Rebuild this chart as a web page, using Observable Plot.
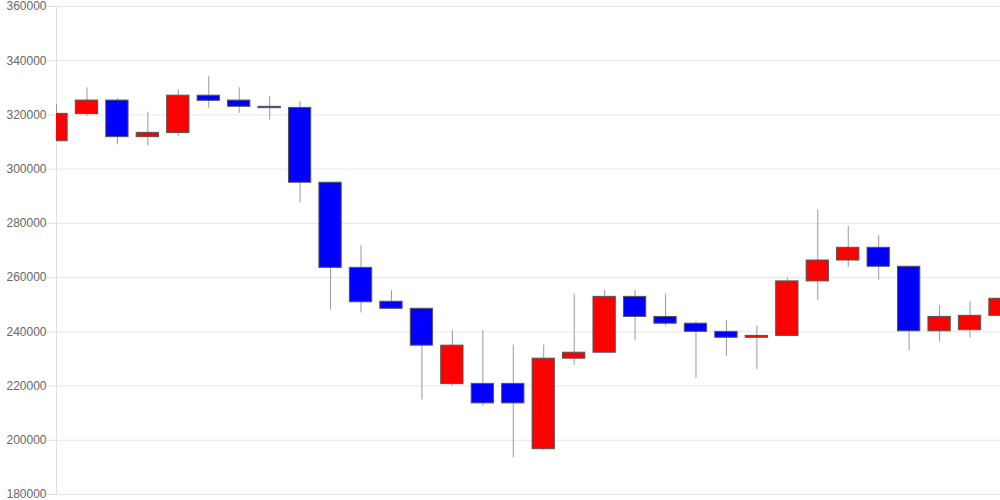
<!DOCTYPE html>
<html>
<head>
<meta charset="utf-8">
<script src="https://cdn.jsdelivr.net/npm/d3@7"></script>
<script src="https://cdn.jsdelivr.net/npm/@observablehq/plot@0.6"></script>
<style>
  html, body { margin: 0; padding: 0; background: #fff; }
</style>
</head>
<body>
<div id="chart"></div>
<script>
const opens  = [310300, 320300, 325300, 311800, 313300, 327100, 325300, 323000, 322600, 295000,
                263600, 251100, 248500, 220700, 220800, 220800, 196700, 230100, 232300, 252900,
                245500, 243000, 240000, 237800, 238500, 258600, 266300, 271000, 264000, 240200,
                240600, 245900];
const closes = [320400, 325300, 311800, 313400, 327100, 325200, 323000, 322500, 295000, 263600,
                250900, 248500, 234900, 234900, 213600, 213600, 230100, 232300, 252900, 245500,
                243000, 240000, 237800, 238500, 258600, 266300, 271000, 264000, 240200, 245500,
                245900, 252200];
const highs  = [323900, 330000, 326000, 321000, 329300, 334100, 330000, 326800, 324900, 295000,
                271900, 255200, 248500, 240500, 240500, 235100, 235100, 253800, 255300, 255300,
                253800, 243800, 244200, 242200, 259900, 285000, 278900, 275500, 264000, 249700,
                251200, 259800];
const lows   = [310300, 319500, 309000, 308500, 312000, 322500, 320600, 318200, 287600, 248100,
                246900, 248500, 214900, 220000, 212500, 193500, 196300, 227600, 232300, 236700,
                242100, 222900, 231000, 226100, 238500, 251600, 263800, 259100, 232900, 236200,
                237700, 243200];
const yTicks = [180000, 200000, 220000, 240000, 260000, 280000, 300000, 320000, 340000, 360000];

const data = opens.map((o, i) => ({i, open: o, close: closes[i], high: highs[i], low: lows[i]}));
const half = 0.366;

const chart = Plot.plot({
  width: 1000,
  height: 500,
  marginTop: 6,
  marginBottom: 6,
  marginLeft: 56,
  marginRight: 0,
  style: {fontFamily: "'Liberation Sans', Arial, sans-serif", fontSize: "12px", background: "#fff"},
  x: {type: "linear", domain: [0, data.length - 1], axis: null},
  y: {domain: [180000, 360000], axis: null},
  marks: [
    Plot.gridY(yTicks, {stroke: "#e6e6e6", strokeOpacity: 1}),
    Plot.axisY(yTicks, {tickSize: 9, tickPadding: 1, stroke: "#e0e0e0", strokeOpacity: 1, fill: "#666", tickFormat: d3.format("d"), fontSize: 12}),
    Plot.ruleX([0], {stroke: "#e0e0e0"}),
    Plot.ruleX(data, {x: "i", y1: "low", y2: "high", stroke: "#999", clip: true}),
    Plot.rect(data, {
      x1: d => d.i - half, x2: d => d.i + half,
      y1: "open", y2: "close",
      fill: d => d.close > d.open ? "#ff0000" : "#0000ff",
      stroke: "#555", strokeWidth: 1,
      clip: true
    })
  ]
});
document.getElementById("chart").appendChild(chart);
</script>
</body>
</html>
